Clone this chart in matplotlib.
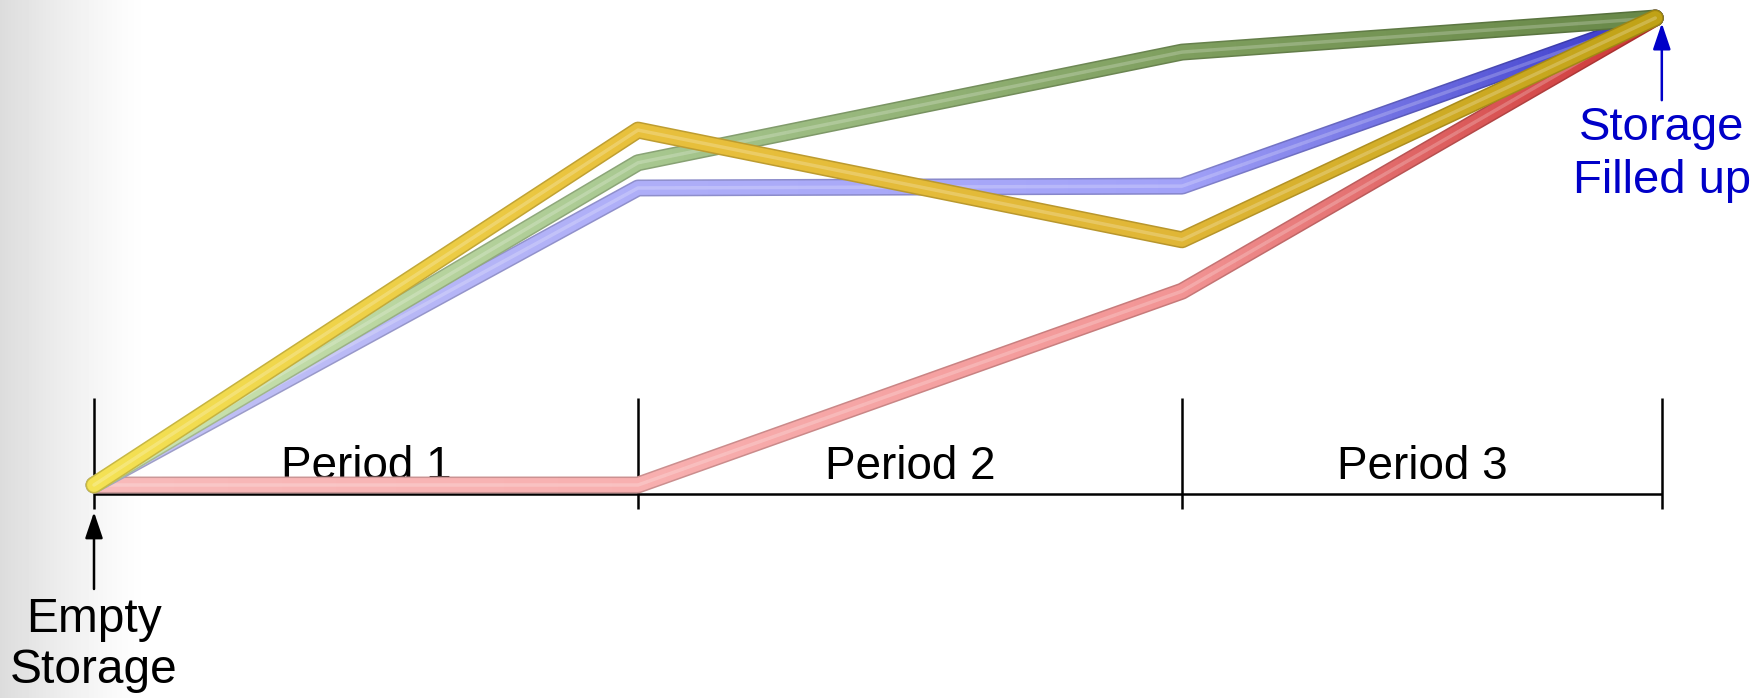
import matplotlib
matplotlib.use("Agg")
import matplotlib.pyplot as plt
from matplotlib.colors import to_rgb
from matplotlib.transforms import Bbox
import numpy as np

# ---- data ----
period_labels = ["Period 1", "Period 2", "Period 3"]
period_edges = [0.0, 1.0, 2.0, 2.882]
x_points = [0.0, 1.0, 2.0, 2.870]
green = [0.0, 0.690, 0.927, 1.0]
blue = [0.0, 0.636, 0.640, 1.0]
yellow = [0.0, 0.760, 0.525, 1.0]
red = [0.0, 0.0, 0.415, 1.0]

# colour stops along x (light on the left, darker toward the right)
series = [
    ("red", red, ["#f8baba", "#f8b0b0", "#f29494", "#cc3434"]),
    ("blue", blue, ["#c4c4f4", "#aeaef8", "#a2a2f8", "#3434c8"]),
    ("green", green, ["#cfe6b4", "#a8c890", "#7e9e5e", "#688848"]),
    ("yellow", yellow, ["#f4e254", "#e8c03c", "#e0b636", "#c0a216"]),
]

W, H = 1762, 698
fig = plt.figure(figsize=(W / 100, H / 100), dpi=100)

# background gradient (left grey fading to white)
bg = fig.add_axes([0, 0, 1, 1])
cols = np.arange(W)
t = np.clip(cols / 150.0, 0, 1)
vals = 1.0 - 0.138 * (1 - t) ** 1.3
img = np.tile(vals, (2, 1))
bg.imshow(img, cmap="gray", vmin=0, vmax=1, aspect="auto", extent=[0, 1, 0, 1])
bg.set_axis_off()

ax = fig.add_axes([0, 0, 1, 1])
ax.patch.set_alpha(0)
ax.set_axis_off()
ax.set_xlim(-94 / 544, (W - 94) / 544)
ax.set_ylim((485 - H) / 467, 485 / 467)

font = "Liberation Sans"

# baseline and period ticks
base_y = -0.0193
ax.plot([period_edges[0], period_edges[-1]], [base_y, base_y], color="black", lw=1.8, zorder=1,
        solid_capstyle="butt")
for e in period_edges:
    ax.plot([e, e], [-0.051, 0.186], color="black", lw=1.8, zorder=1, solid_capstyle="butt")

for i, lab in enumerate(period_labels):
    ax.text((period_edges[i] + period_edges[i + 1]) / 2, 0.013, lab, ha="center", va="baseline",
            fontsize=33, family=font, color="black", zorder=2)

# storage curves, colour-graded along x using clipped strips of the same line
lw = 10
px0, px1, step = 78, 1680, 6
stop_x = x_points
for k, (name, ys, stops) in enumerate(series):
    rgb = np.array([to_rgb(c) for c in stops])
    zb = 10 + 4 * k
    for p in range(px0, px1, step):
        xd = ax.transData.inverted().transform((p + step / 2, 0))[0]
        c = np.array([np.interp(xd, stop_x, rgb[:, j]) for j in range(3)])
        edge = c * 0.82
        clip = Bbox.from_extents(p, 0, p + step, H)
        l1, = ax.plot(x_points, ys, color=edge, lw=lw + 2.2, solid_capstyle="round",
                      solid_joinstyle="round", zorder=zb)
        l2, = ax.plot(x_points, ys, color=c, lw=lw, solid_capstyle="round",
                      solid_joinstyle="round", zorder=zb + 1)
        l1.set_clip_box(clip)
        l2.set_clip_box(clip)
    ax.plot(x_points, ys, color="white", alpha=0.22, lw=2.5, solid_capstyle="round",
            solid_joinstyle="round", zorder=zb + 2)

# annotations
ax.annotate("", xy=(0, -0.0578), xytext=(0, -0.2227),
            arrowprops=dict(arrowstyle="-|>,head_length=0.8,head_width=0.27", mutation_scale=20,
                            color="black", lw=1.8, shrinkA=0, shrinkB=0), zorder=5)
ax.text(0, -0.315, "Empty", ha="center", va="baseline", fontsize=34.5, family=font, color="black")
ax.text(0, -0.424, "Storage", ha="center", va="baseline", fontsize=34.5, family=font, color="black")

blue_txt = "#0000c8"
ax.annotate("", xy=(period_edges[-1], 0.989), xytext=(period_edges[-1], 0.824),
            arrowprops=dict(arrowstyle="-|>,head_length=0.8,head_width=0.27", mutation_scale=20,
                            color=blue_txt, lw=1.8, shrinkA=0, shrinkB=0), zorder=40)
ax.text(period_edges[-1], 0.739, "Storage", ha="center", va="baseline", fontsize=34, family=font,
        color=blue_txt)
ax.text(period_edges[-1], 0.625, "Filled up", ha="center", va="baseline", fontsize=34, family=font,
        color=blue_txt)

fig.savefig("out.png", dpi=100)
